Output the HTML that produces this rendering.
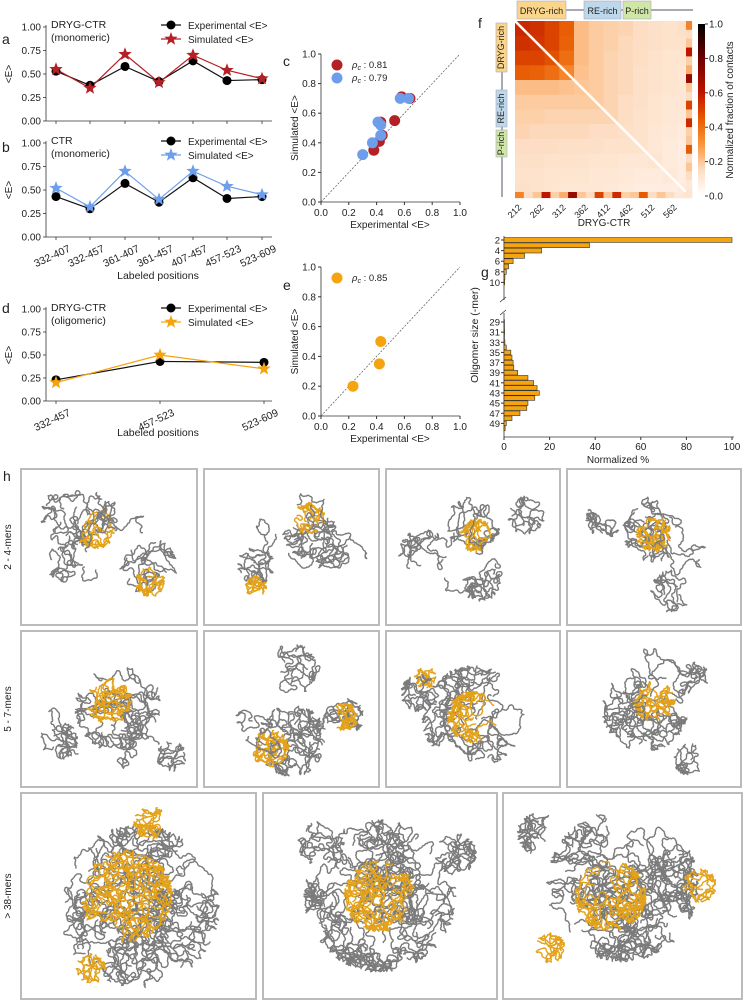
<!DOCTYPE html>
<html><head><meta charset="utf-8"><style>
body{margin:0;background:#fff}
svg{display:block;font-family:"Liberation Sans",Arial,sans-serif}
</style></head><body>
<svg id="s" width="743" height="1000" viewBox="0 0 743 1000"></svg>
<script>
// ---------- data ----------
const catsAB=["332-407","332-457","361-407","361-457","407-457","457-523","523-609"];
const expA=[0.53,0.38,0.58,0.42,0.64,0.43,0.44];
const simA=[0.55,0.35,0.71,0.41,0.70,0.54,0.45];
const expB=[0.43,0.30,0.57,0.37,0.63,0.41,0.43];
const simB=[0.52,0.32,0.70,0.40,0.70,0.54,0.45];
const catsD=["332-457","457-523","523-609"];
const expD=[0.23,0.43,0.42];
const simD=[0.20,0.50,0.35];
const yTicks=[0,0.25,0.5,0.75,1.0];
const yTickLabels=["0.00","0.25","0.50","0.75","1.00"];
const scTicks=[0,0.2,0.4,0.6,0.8,1.0];
const rhoC=["0.81","0.79"];
const rhoE=["0.85"];
const heat=[
[.56,.54,.5,.44,.22,.19,.18,.17,.15,.14,.13,.14],
[.54,.53,.5,.43,.22,.19,.18,.16,.15,.14,.13,.13],
[.5,.5,.47,.4,.22,.19,.17,.16,.15,.13,.12,.12],
[.44,.43,.4,.34,.21,.19,.17,.16,.14,.13,.12,.11],
[.22,.22,.22,.21,.2,.19,.17,.16,.14,.13,.12,.11],
[.19,.19,.19,.19,.19,.19,.17,.15,.14,.12,.11,.11],
[.18,.18,.17,.17,.17,.17,.17,.15,.13,.12,.11,.1],
[.17,.16,.16,.16,.16,.15,.15,.14,.13,.11,.1,.09],
[.15,.15,.15,.14,.14,.14,.13,.13,.13,.11,.09,.08],
[.14,.14,.13,.13,.13,.12,.12,.11,.11,.12,.09,.08],
[.13,.13,.12,.12,.12,.11,.11,.1,.09,.09,.1,.08],
[.14,.13,.12,.11,.11,.11,.1,.09,.08,.08,.08,.09]];
const edge=[.35,.15,.2,.6,.18,.25,.7,.2,.15,.5,.2,.55,.18,.2,.45,.15,.2,.15,.1,.12];
const heatTicks=["212","262","312","362","412","462","512","562"];
const cbTicks=[0,0.2,0.4,0.6,0.8,1.0];
const sizesTop=[2,3,4,5,6,7,8,9,10];
const pctTop=[100,37.5,16.5,9,4,2,1,0.4,0.3];
const sizesBot=[29,30,31,32,33,34,35,36,37,38,39,40,41,42,43,44,45,46,47,48,49,50];
const pctBot=[0.2,0.2,0.3,0.2,0.4,1,3,3.5,4,4.3,6,10.5,13,14.5,15.5,13.5,10.5,10,7,3.5,1,0.5];
const pctTicks=[0,20,40,60,80,100];

// ---------- helpers ----------
const S=document.getElementById('s');const NS="http://www.w3.org/2000/svg";
function el(t,a,p){const e=document.createElementNS(NS,t);for(const k in a)e.setAttribute(k,a[k]);(p||S).appendChild(e);return e;}
function tx(x,y,s,a,p){const e=el('text',Object.assign({x:x,y:y,'font-size':10,fill:'#222'},a||{}),p);e.textContent=s;return e;}
function star(cx,cy,r,fill,p){let pts=[];for(let i=0;i<10;i++){const rr=i%2?r*0.42:r;const an=-Math.PI/2+i*Math.PI/5;pts.push((cx+rr*Math.cos(an)).toFixed(1)+','+(cy+rr*Math.sin(an)).toFixed(1));}return el('polygon',{points:pts.join(' '),fill:fill},p);}

// ---------- line panels ----------
function linePanel(name,letter,ly,y0,y1,xs,cats,exp,sim,col,title,sub,showX,legY){
  const g=el('g',{});
  const ys=v=>y1+(y0-y1)*v;
  tx(2,ly,letter,{'font-size':14},g);
  el('line',{x1:46,y1:y0-2,x2:46,y2:y1,stroke:'#333','stroke-width':0.8},g);
  el('line',{x1:46,y1:y1,x2:272,y2:y1,stroke:'#333','stroke-width':0.8},g);
  yTicks.forEach((t,i)=>{el('line',{x1:43,x2:46,y1:ys(t),y2:ys(t),stroke:'#333','stroke-width':0.8},g);tx(41,ys(t)+3.5,yTickLabels[i],{'text-anchor':'end'},g);});
  const yl=tx(12,(y0+y1)/2,'<E>',{'text-anchor':'middle',transform:`rotate(-90 12 ${(y0+y1)/2})`},g);
  cats.forEach((c,i)=>{el('line',{x1:xs[i],x2:xs[i],y1:y1,y2:y1+3,stroke:'#333','stroke-width':0.8},g);
    if(showX){const t=tx(xs[i]+15,y1+14,c,{'text-anchor':'end','font-size':10.5,transform:`rotate(-25 ${xs[i]+15} ${y1+14})`},g);}});
  const pe=exp.map((v,i)=>xs[i]+','+ys(v)).join(' ');
  const ps=sim.map((v,i)=>xs[i]+','+ys(v)).join(' ');
  el('polyline',{points:pe,fill:'none',stroke:'#111','stroke-width':1.2},g);
  el('polyline',{points:ps,fill:'none',stroke:col,'stroke-width':1.2},g);
  exp.forEach((v,i)=>{const c=el('circle',{cx:xs[i],cy:ys(v),r:4.5,fill:'#000'},g);});
  sim.forEach((v,i)=>{const s=star(xs[i],ys(v),7,col,g);});
  tx(51,legY-1,title,{'font-size':10.5},g);if(sub)tx(51,legY+12,sub,{'font-size':10.5},g);
  const lg=el('g',{},g);
  el('line',{x1:161,x2:181,y1:legY-4,y2:legY-4,stroke:'#111','stroke-width':1.2},lg);el('circle',{cx:171,cy:legY-4,r:4.5,fill:'#000'},lg);
  tx(188,legY,'Experimental <E>',{'font-size':10},lg);
  el('line',{x1:161,x2:181,y1:legY+10,y2:legY+10,stroke:col,'stroke-width':1.2},lg);star(171,legY+10,7,col,lg);
  tx(188,legY+14,'Simulated <E>',{'font-size':10},lg);
}
const xsAB=[56,90,125,159,193,227,262];
linePanel('panel-a','a',44,27,121,xsAB,catsAB,expA,simA,'#b32025','DRYG-CTR','(monomeric)',false,29);
linePanel('panel-b','b',152,143,237,xsAB,catsAB,expB,simB,'#6d9eeb','CTR','(monomeric)',true,145);
tx(158,279,'Labeled positions',{'font-size':10.5,'text-anchor':'middle'});
linePanel('panel-d','d',313,309,401,[56,160,264],catsD,expD,simD,'#f5a30f','DRYG-CTR','(oligomeric)',true,312);
tx(158,436,'Labeled positions',{'font-size':10.5,'text-anchor':'middle'});

// ---------- scatter panels ----------
function scatter(name,letter,lx,ly,y0,y1,sets,rhos){
  const g=el('g',{});
  const xs=v=>321+139*v, ys=v=>y1+(y0-y1)*v;
  tx(lx,ly,letter,{'font-size':14},g);
  el('line',{x1:321,y1:y0,x2:321,y2:y1,stroke:'#333','stroke-width':0.8},g);
  el('line',{x1:321,y1:y1,x2:460,y2:y1,stroke:'#333','stroke-width':0.8},g);
  el('line',{x1:xs(0),y1:ys(0),x2:xs(1),y2:ys(1),stroke:'#555','stroke-width':0.7,'stroke-dasharray':'2,1.5'},g);
  scTicks.forEach(t=>{el('line',{x1:318,x2:321,y1:ys(t),y2:ys(t),stroke:'#333'},g);tx(316,ys(t)+3.5,t.toFixed(1),{'text-anchor':'end'},g);
    el('line',{x1:xs(t),x2:xs(t),y1:y1,y2:y1+3,stroke:'#333'},g);tx(xs(t),y1+14,t.toFixed(1),{'text-anchor':'middle'},g);});
  tx(390,y1+26,'Experimental <E>',{'font-size':10,'text-anchor':'middle'},g);
  const c=(y0+y1)/2;tx(298,c,'Simulated <E>',{'font-size':10,'text-anchor':'middle',transform:`rotate(-90 298 ${c})`},g);
  sets.forEach((st,k)=>{st.e.forEach((v,i)=>{const p=el('circle',{cx:xs(v),cy:ys(st.s[i]),r:5.5,fill:st.col},g);});
    el('circle',{cx:337,cy:y0+11+k*13,r:5.5,fill:st.col},g);
    const t=tx(352,y0+14+k*13,'',{'font-size':9.5},g);t.innerHTML='<tspan font-style="italic">ρ</tspan><tspan font-size="7" dy="2" font-style="italic">c</tspan><tspan dy="-2"> : '+rhos[k]+'</tspan>';});
}
scatter('panel-c','c',283,66,54,202,[{e:expA,s:simA,col:'#b32025'},{e:expB,s:simB,col:'#6d9eeb'}],rhoC);
scatter('panel-e','e',283,290,267,416,[{e:expD,s:simD,col:'#f5a30f'}],rhoE);

// ---------- heatmap ----------
const stops=[[0,[255,255,255]],[0.15,[253,222,196]],[0.3,[250,150,60]],[0.45,[232,90,0]],[0.6,[190,20,0]],[0.8,[110,0,0]],[1,[0,0,0]]];
function cmap(v){for(let i=1;i<stops.length;i++){if(v<=stops[i][0]){const a=stops[i-1],b=stops[i],t=(v-a[0])/(b[0]-a[0]);return 'rgb('+a[1].map((c,j)=>Math.round(c+(b[1][j]-c)*t)).join(',')+')';}}return '#000';}
const hg=el('g',{});
tx(478,28,'f',{'font-size':14},hg);
const HX=515,HY=21,HW=177,n=heat.length,cw=HW/n;
heat.forEach((row,i)=>row.forEach((v,j)=>{const r=el('rect',{x:HX+j*cw,y:HY+i*cw,width:cw+0.3,height:cw+0.3,fill:cmap(v)},hg);}));
el('line',{x1:HX,y1:HY,x2:HX+HW,y2:HY+HW,stroke:'#fff','stroke-width':2.5},hg);
const ew=HW/edge.length;
edge.forEach((v,i)=>{el('rect',{x:HX+i*ew,y:HY+HW-6,width:ew+0.2,height:6,fill:cmap(v)},hg);el('rect',{x:HX+HW-6,y:HY+i*ew,width:6,height:ew+0.2,fill:cmap(v)},hg);});
heatTicks.forEach((t,i)=>{const x=HX+4+i*22.2;tx(x+3,HY+HW+10,t,{'font-size':9,'text-anchor':'end',transform:`rotate(-45 ${x+3} ${HY+HW+10})`},hg);});
tx(604,226,'DRYG-CTR',{'font-size':10,'text-anchor':'middle'},hg);
const defs=el('defs',{});const lg=el('linearGradient',{id:'cb',x1:0,y1:1,x2:0,y2:0},defs);
stops.forEach(s=>el('stop',{offset:s[0],'stop-color':cmap(s[0])},lg));
el('rect',{x:698,y:24,width:7,height:172,fill:'url(#cb)'},hg);
cbTicks.forEach(t=>{const y=196-172*t;el('line',{x1:705,x2:708,y1:y,y2:y,stroke:'#333'},hg);tx(709,y+3.5,t.toFixed(1),{'font-size':10},hg);});
tx(733,110,'Normalized fraction of contacts',{'font-size':10,'text-anchor':'middle',transform:'rotate(-90 733 110)'},hg);
el('line',{x1:517,y1:10,x2:693,y2:10,stroke:'#556','stroke-width':1},hg);
[[517,566,'#fbd58a','DRYG-rich'],[584,621,'#bcd8ea','RE-rich'],[623,651,'#cfe6a6','P-rich']].forEach(r=>{el('rect',{x:r[0],y:1,width:r[1]-r[0],height:18,fill:r[2],stroke:'#aab','stroke-width':0.6},hg);tx((r[0]+r[1])/2,14,r[3],{'font-size':9,'text-anchor':'middle'},hg);});
el('line',{x1:502,y1:23,x2:502,y2:197,stroke:'#556','stroke-width':1},hg);
[[23,72,'#fbd58a','DRYG-rich'],[90,127,'#bcd8ea','RE-rich'],[130,157,'#cfe6a6','P-rich']].forEach(r=>{el('rect',{x:496,y:r[0],width:11,height:r[1]-r[0],fill:r[2],stroke:'#aab','stroke-width':0.6},hg);const c=(r[0]+r[1])/2;tx(504,c,r[3],{'font-size':9,'text-anchor':'middle',transform:`rotate(-90 504 ${c})`},hg);});

// ---------- histogram ----------
const gg=el('g',{});
tx(481,277,'g',{'font-size':14},gg);
const px=v=>504+2.28*v;
const yT=s=>240+(s-2)*5.3, yB=s=>322+(s-29)*5.07;
el('line',{x1:504,y1:236,x2:504,y2:300,stroke:'#333','stroke-width':0.8},gg);
el('line',{x1:504,y1:313,x2:504,y2:437,stroke:'#333','stroke-width':0.8},gg);
el('line',{x1:500,y1:302,x2:506,y2:297,stroke:'#333','stroke-width':0.8},gg);
el('line',{x1:500,y1:315,x2:506,y2:310,stroke:'#333','stroke-width':0.8},gg);
el('line',{x1:504,y1:437,x2:734,y2:437,stroke:'#333','stroke-width':0.8},gg);
sizesTop.forEach((s,i)=>{const b=el('rect',{x:504,y:yT(s)-2.4,width:px(pctTop[i])-504,height:4.8,fill:'#f5a30f',stroke:'#333','stroke-width':0.6},gg);if(s%2==0){tx(500,yT(s)+3.5,String(s),{'text-anchor':'end','font-size':9.5},gg);el('line',{x1:501,x2:504,y1:yT(s),y2:yT(s),stroke:'#333'},gg);}});
sizesBot.forEach((s,i)=>{const b=el('rect',{x:504,y:yB(s)-2.3,width:px(pctBot[i])-504,height:4.6,fill:'#f5a30f',stroke:'#333','stroke-width':0.6},gg);if(s%2==1){tx(500,yB(s)+3.5,String(s),{'text-anchor':'end','font-size':9.5},gg);el('line',{x1:501,x2:504,y1:yB(s),y2:yB(s),stroke:'#333'},gg);}});
pctTicks.forEach(t=>{el('line',{x1:px(t),x2:px(t),y1:437,y2:440,stroke:'#333'},gg);tx(px(t),450,String(t),{'text-anchor':'middle'},gg);});
tx(618,463,'Normalized %',{'text-anchor':'middle'},gg);
tx(478,335,'Oligomer size (-mer)',{'text-anchor':'middle','font-size':10.5,transform:'rotate(-90 478 335)'},gg);

// ---------- panel h (decorative chain renders) ----------
tx(3,481,'h',{'font-size':14});
let seed=12345;function rnd(){seed=(seed*1103515245+12345)%2147483648;return seed/2147483648;}
// [cx, cy, radius, steps, orange?]
const boxes=[
 [20,468,178,158,[[.3,.3,32,700,0],[.72,.62,28,500,0],[.25,.6,18,250,0],[.42,.38,20,350,1],[.73,.72,14,300,1],[.5,.5,45,300,0]]],
 [203,468,177,158,[[.6,.4,26,500,0],[.78,.55,25,350,0],[.3,.62,18,350,0],[.6,.32,15,320,1],[.3,.75,10,200,1],[.55,.45,45,250,0]]],
 [385,468,176,158,[[.5,.35,26,450,0],[.22,.55,25,350,0],[.8,.3,18,280,0],[.55,.72,18,250,0],[.52,.43,16,380,1],[.5,.5,50,300,0]]],
 [566,468,176,158,[[.5,.4,30,600,0],[.6,.78,20,300,0],[.22,.32,18,240,0],[.5,.42,17,450,1],[.5,.5,50,300,0]]],
 [20,630,178,158,[[.55,.5,42,1400,0],[.22,.7,18,320,0],[.85,.8,14,240,0],[.5,.45,22,600,1],[.5,.5,60,300,0]]],
 [203,630,177,158,[[.5,.7,35,1200,0],[.5,.25,25,400,0],[.8,.55,18,400,0],[.38,.75,18,500,1],[.8,.55,13,300,1],[.5,.5,55,300,0]]],
 [385,630,176,158,[[.5,.55,50,1800,0],[.5,.55,25,760,1],[.23,.3,10,200,1],[.2,.4,18,400,0]]],
 [566,630,176,158,[[.45,.5,42,1400,0],[.5,.45,20,600,1],[.72,.3,15,240,0],[.7,.82,15,240,0],[.5,.5,60,300,0]]],
 [20,792,237,208,[[.5,.55,80,6000,0],[.45,.5,45,2400,1],[.55,.15,16,400,1],[.3,.85,14,300,1]]],
 [262,792,236,208,[[.5,.5,75,5600,0],[.5,.5,35,1600,1],[.25,.25,22,400,0],[.82,.3,20,500,0]]],
 [502,792,241,208,[[.5,.45,75,5600,0],[.45,.5,35,1400,1],[.2,.75,14,300,1],[.82,.45,16,300,1],[.15,.2,20,400,0]]]];
const labels=[['2 - 4-mers',547],['5 - 7-mers',709],['> 38-mers',896]];
labels.forEach(l=>{const t=tx(11,l[1],l[0],{'text-anchor':'middle','font-size':10,transform:`rotate(-90 11 ${l[1]})`});});
boxes.forEach((b,bi)=>{
  const g=el('g',{});
  el('rect',{x:b[0]+1,y:b[1]+1,width:b[2]-2,height:b[3]-2,fill:'#fff',stroke:'#bbb','stroke-width':2},g);
  b[4].forEach(c=>{
    const cx=b[0]+c[0]*b[2],cy=b[1]+c[1]*b[3],R=c[2];
    let remaining=c[3];
    while(remaining>0){
      const seg=Math.min(remaining,90);remaining-=seg;
      const rr=R*Math.sqrt(rnd())*0.9,th=rnd()*6.283;
      let x=cx+rr*Math.cos(th),y=cy+rr*Math.sin(th),a=rnd()*6.28,pts=[];
      for(let k=0;k<seg;k++){a+=(rnd()-0.5)*2.0;x+=1.4*Math.cos(a);y+=1.4*Math.sin(a);
        const dx=x-cx,dy=y-cy;if(dx*dx+dy*dy>R*R){a=Math.atan2(-dy,-dx)+(rnd()-0.5)*1.5;}
        x=Math.max(b[0]+6,Math.min(b[0]+b[2]-6,x));y=Math.max(b[1]+6,Math.min(b[1]+b[3]-6,y));
        pts.push(x.toFixed(1)+','+y.toFixed(1));}
      el('polyline',{points:pts.join(' '),fill:'none',stroke:c[4]?'#e3a21a':'#7b7b7b','stroke-width':1.4,'stroke-linejoin':'round'},g);
    }
  });
});
</script>
</body></html>
